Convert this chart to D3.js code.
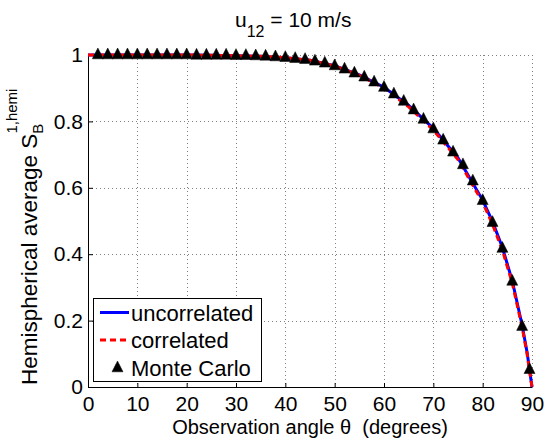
<!DOCTYPE html>
<html>
<head>
<meta charset="utf-8">
<script src="https://cdn.jsdelivr.net/npm/d3@7"></script>
<style>
  body { margin: 0; background: #fff; }
  text { font-family: "Liberation Sans", Arial, Helvetica, sans-serif; fill: #000; }
</style>
</head>
<body>
<script>
// curves (analytic)
var curveAngles = [0, 5, 10, 15, 20, 25, 30, 35, 40, 45, 50, 55, 60, 65, 70, 75, 80, 82, 84, 86, 88, 89, 90];
var uncorrelated = [1.000, 1.000, 1.000, 1.000, 1.000, 0.999, 0.998, 0.996, 0.992, 0.984, 0.968, 0.940,
                    0.903, 0.848, 0.779, 0.690, 0.563, 0.498, 0.420, 0.320, 0.186, 0.105, 0.000];
var correlated   = [1.000, 1.000, 1.000, 1.000, 1.000, 0.999, 0.998, 0.996, 0.992, 0.984, 0.967, 0.939,
                    0.900, 0.844, 0.774, 0.685, 0.556, 0.490, 0.412, 0.313, 0.180, 0.100, 0.000];

// Monte Carlo points
var mcAngles = [2, 4, 6, 8, 10, 12, 14, 16, 18, 20, 22, 24, 26, 28, 30, 32, 34, 36, 38, 40, 42, 44,
                46, 48, 50, 52, 54, 56, 58, 60, 62, 64, 66, 68, 70, 72, 74, 76, 78, 80, 82, 84, 86, 88, 89.5];
var mcValues = [1.000, 1.000, 1.000, 1.000, 1.000, 1.000, 1.000, 1.000, 1.000, 1.000, 0.999, 0.999,
                0.999, 0.999, 0.998, 0.998, 0.997, 0.996, 0.994, 0.992, 0.989, 0.986, 0.981, 0.975,
                0.967, 0.957, 0.945, 0.933, 0.918, 0.902, 0.882, 0.860, 0.834, 0.806, 0.777, 0.743,
                0.707, 0.669, 0.620, 0.561, 0.495, 0.417, 0.318, 0.182, 0.052];

var xTicks = [0, 10, 20, 30, 40, 50, 60, 70, 80, 90];
var yTicks = [0, 0.2, 0.4, 0.6, 0.8, 1];
var legendLabels = ['uncorrelated', 'correlated', 'Monte Carlo'];

var width = 549, height = 440;
var plotL = 88, plotR = 532, plotT = 55, plotB = 387;

var svg = d3.select('body').append('svg')
    .attr('width', width)
    .attr('height', height);

var x = d3.scaleLinear().domain([0, 90]).range([plotL, plotR]);
var y = d3.scaleLinear().domain([0, 1]).range([plotB, plotT]);

// grid
var grid = svg.append('g').attr('class', 'grid')
    .attr('stroke', '#808080')
    .attr('stroke-width', 1)
    .attr('stroke-dasharray', '1,3');
grid.selectAll('line.gx')
    .data(xTicks.slice(1))
    .enter().append('line')
      .attr('class', 'gx')
      .attr('x1', function(d) { return Math.round(x(d)) + 0.5; })
      .attr('x2', function(d) { return Math.round(x(d)) + 0.5; })
      .attr('y1', plotT)
      .attr('y2', plotB);
grid.selectAll('line.gy')
    .data(yTicks.slice(1))
    .enter().append('line')
      .attr('class', 'gy')
      .attr('y1', function(d) { return Math.round(y(d)) + 0.5; })
      .attr('y2', function(d) { return Math.round(y(d)) + 0.5; })
      .attr('x1', plotL)
      .attr('x2', plotR);

// axes
var xAxis = d3.axisBottom(x).tickValues(xTicks).tickSize(-4).tickSizeOuter(0).tickPadding(9)
    .tickFormat(d3.format('d'));
var yAxis = d3.axisLeft(y).tickValues(yTicks).tickSize(-5).tickSizeOuter(0).tickPadding(5)
    .tickFormat(function(d) { return d === 0 || d === 1 ? String(d) : d3.format('.1f')(d); });

var gx = svg.append('g').attr('transform', 'translate(0,' + plotB + ')').call(xAxis);
var gy = svg.append('g').attr('transform', 'translate(' + plotL + ',0)').call(yAxis);
[gx, gy].forEach(function(g) {
  g.selectAll('text').style('font-size', '21px').attr('fill', '#000');
  g.selectAll('line, path').attr('stroke', '#000');
});

// curves
var line = d3.line()
    .x(function(d) { return x(d[0]); })
    .y(function(d) { return y(d[1]); });

var uncData = curveAngles.map(function(a, i) { return [a, uncorrelated[i]]; });
var corData = curveAngles.map(function(a, i) { return [a, correlated[i]]; });
var mcData = mcAngles.map(function(a, i) { return [a, mcValues[i]]; });

svg.append('path')
    .attr('d', line(uncData))
    .attr('fill', 'none')
    .attr('stroke', '#0000ff')
    .attr('stroke-width', 3);
svg.append('path')
    .attr('d', line(corData))
    .attr('fill', 'none')
    .attr('stroke', '#ff0000')
    .attr('stroke-width', 3)
    .attr('stroke-dasharray', '6,4');

var tri = 'M0,-7L5.5,3.8L-5.5,3.8Z';
svg.append('g').selectAll('path')
    .data(mcData)
    .enter().append('path')
      .attr('d', tri)
      .attr('transform', function(d) { return 'translate(' + x(d[0]) + ',' + y(d[1]) + ')'; })
      .attr('fill', '#000')
      .attr('stroke', '#000')
      .attr('stroke-width', 0.5);

// legend
var lg = svg.append('g').attr('class', 'legend');
lg.append('rect')
    .attr('x', 93.5).attr('y', 298.5)
    .attr('width', 168).attr('height', 83)
    .attr('fill', '#fff')
    .attr('stroke', '#000')
    .attr('stroke-width', 1);
var rowY = [312.5, 340, 368];
lg.append('line')
    .attr('x1', 100).attr('x2', 129).attr('y1', rowY[0]).attr('y2', rowY[0])
    .attr('stroke', '#0000ff').attr('stroke-width', 3);
lg.append('line')
    .attr('x1', 100).attr('x2', 129).attr('y1', rowY[1]).attr('y2', rowY[1])
    .attr('stroke', '#ff0000').attr('stroke-width', 3).attr('stroke-dasharray', '6,4');
lg.append('path')
    .attr('d', tri)
    .attr('transform', 'translate(117.5,' + rowY[2] + ')')
    .attr('fill', '#000').attr('stroke', '#000').attr('stroke-width', 0.5);
lg.selectAll('text')
    .data(legendLabels)
    .enter().append('text')
      .attr('x', 131)
      .attr('y', function(d, i) { return rowY[i] + 8; })
      .style('font-size', '22px')
      .text(function(d) { return d; });

// title
var title = svg.append('text')
    .attr('x', 235)
    .attr('y', 27)
    .style('font-size', '21px');
title.append('tspan').text('u');
title.append('tspan').attr('dy', 10).style('font-size', '16px').text('12');
title.append('tspan').attr('dy', -10).text(' = 10 m/s');

// x label
svg.append('text')
    .attr('x', (plotL + plotR) / 2)
    .attr('y', 434)
    .attr('text-anchor', 'middle')
    .style('font-size', '20px')
    .style('white-space', 'pre')
    .text('Observation angle \u03b8  (degrees)');

// y label
var yl = svg.append('text')
    .attr('transform', 'translate(37,385) rotate(-90)')
    .style('font-size', '22.5px');
yl.append('tspan').text('Hemispherical average S');
yl.append('tspan').attr('dy', 6).style('font-size', '15px').text('B');
yl.append('tspan').attr('dx', -10).attr('dy', -26).style('font-size', '15px').text('1,hemi');
</script>
</body>
</html>
